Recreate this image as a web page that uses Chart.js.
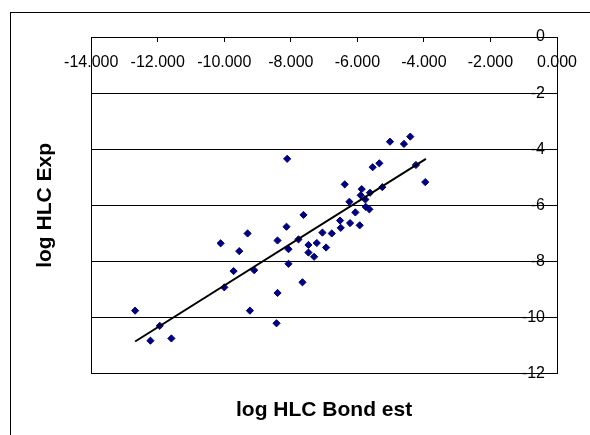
<!DOCTYPE html>
<html>
<head>
<meta charset="utf-8">
<script src="https://cdn.jsdelivr.net/npm/chart.js@4/dist/chart.umd.min.js"></script>
<style>
  html, body { margin: 0; padding: 0; background: #fff; }
  #wrap { position: relative; width: 590px; height: 435px; overflow: hidden; }
  #frame { position: absolute; left: 10px; top: 12px; width: 600px; height: 440px; border: 1px solid #000; }
  #chart-box { position: absolute; left: 0; top: 0; width: 590px; height: 435px; }
</style>
</head>
<body>
<div id="wrap">
  <div id="frame"></div>
  <div id="chart-box"><canvas id="chart"></canvas></div>
</div>
<script>
// log HLC values: Bond estimate (x) vs experimental (y)
const bondEst = [
  -12.68, -12.22, -11.94, -11.59, -10.11, -10.00, -9.72, -9.55, -9.30, -9.10,
  -9.23, -8.40, -8.40, -8.43, -8.11, -8.13, -8.07, -8.07, -7.62, -7.77,
  -7.65, -7.47, -7.47, -7.30, -7.22, -7.05, -6.94, -6.77, -6.52, -6.50,
  -6.38, -6.24, -6.22, -6.06, -5.93, -5.90, -5.87, -5.76, -5.75, -5.64,
  -5.62, -5.54, -5.34, -5.25, -5.02, -4.60, -4.41, -4.24, -3.96
];
const expVals = [
  -9.75, -10.82, -10.29, -10.74, -7.35, -8.92, -8.34, -7.63, -7.00, -8.31,
  -9.75, -7.25, -9.12, -10.20, -4.34, -6.76, -7.56, -8.08, -6.34, -7.21,
  -8.74, -7.41, -7.68, -7.83, -7.34, -6.97, -7.50, -7.00, -6.54, -6.80,
  -5.25, -5.87, -6.63, -6.25, -6.71, -5.64, -5.42, -5.79, -6.05, -6.14,
  -5.55, -4.64, -4.50, -5.35, -3.73, -3.81, -3.55, -4.56, -5.17
];
// linear trendline end points
const trendX = [-12.68, -3.94];
const trendY = [-10.85, -4.34];

const xTicks = [-14, -12, -10, -8, -6, -4, -2, 0];
const yTicks = [0, -2, -4, -6, -8, -10, -12];

const FONT = 'Arial, "Liberation Sans", sans-serif';

const points = bondEst.map((x, i) => ({x, y: expVals[i]}));
const trend = trendX.map((x, i) => ({x, y: trendY[i]}));

new Chart(document.getElementById('chart'), {
  type: 'scatter',
  data: {
    datasets: [
      {
        label: 'HLC',
        data: points,
        pointStyle: 'rectRot',
        pointRadius: 3.6,
        pointBorderWidth: 1,
        backgroundColor: '#000080',
        borderColor: '#000080',
        order: 1
      },
      {
        label: 'trend',
        type: 'line',
        data: trend,
        borderColor: '#000',
        borderWidth: 2,
        pointRadius: 0,
        fill: false,
        order: 0
      }
    ]
  },
  options: {
    responsive: true,
    maintainAspectRatio: false,
    animation: false,
    layout: { padding: { top: 37, left: 0, right: 27, bottom: 0 } },
    plugins: {
      legend: { display: false },
      tooltip: { enabled: false },
      title: {
        display: true,
        text: 'log HLC Bond est',
        position: 'bottom',
        fullSize: false,
        color: '#000',
        font: { family: FONT, size: 21, weight: 'bold' },
        padding: { top: 24, bottom: 12 }
      },
      subtitle: {
        display: true,
        text: 'log HLC Exp',
        position: 'left',
        fullSize: false,
        color: '#000',
        font: { family: FONT, size: 21, weight: 'bold' },
        padding: { top: 33, bottom: 33 }
      }
    },
    scales: {
      x: {
        type: 'linear',
        position: { y: 0 },
        min: -14,
        max: 0,
        afterBuildTicks: (axis) => { axis.ticks = xTicks.map(v => ({value: v})); },
        ticks: {
          color: '#000',
          font: { family: FONT, size: 16 },
          padding: 12,
          maxRotation: 0,
          callback: (v) => Number(v).toFixed(3)
        },
        grid: {
          drawOnChartArea: true,
          color: (ctx) => (ctx.tick && ctx.tick.value === -14) ? '#000' : 'rgba(0,0,0,0)',
          tickColor: '#000',
          tickLength: 4
        },
        border: { display: true, color: '#000', width: 1 }
      },
      y: {
        type: 'linear',
        position: 'right',
        min: -12,
        max: 0,
        afterBuildTicks: (axis) => { axis.ticks = yTicks.map(v => ({value: v})); },
        ticks: {
          color: '#000',
          font: { family: FONT, size: 16 },
          mirror: true,
          padding: -12
        },
        grid: {
          color: '#000',
          tickColor: 'rgba(0,0,0,0)',
          tickLength: 30
        },
        border: { display: true, color: '#000', width: 1 }
      }
    }
  }
});
</script>
</body>
</html>
